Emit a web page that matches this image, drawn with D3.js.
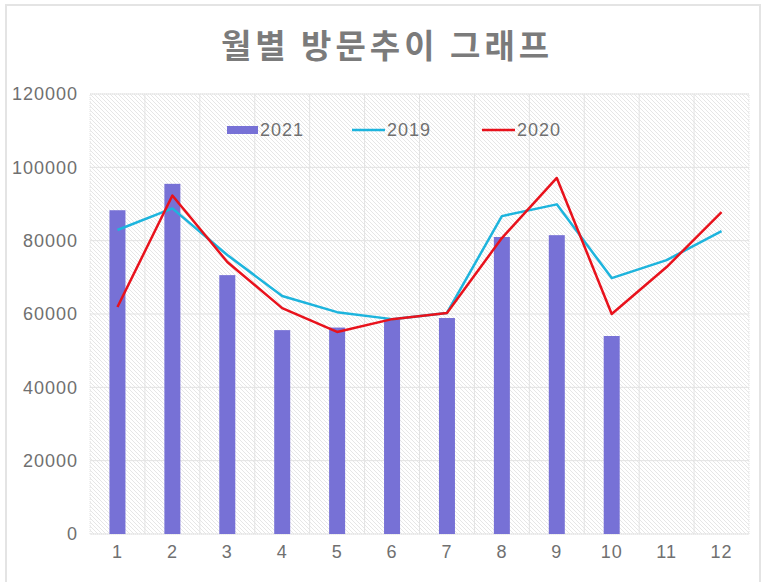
<!DOCTYPE html>
<html>
<head>
<meta charset="utf-8">
<script src="https://cdn.jsdelivr.net/npm/d3@7"></script>
<style>
  html, body { margin: 0; padding: 0; background: #fff; }
  svg { display: block; }
  text { font-family: "Noto Sans CJK KR", "Noto Sans", sans-serif; }
</style>
</head>
<body>
<svg id="chart" width="765" height="582"></svg>
<script>
// Monthly visitor counts
const months = ["1","2","3","4","5","6","7","8","9","10","11","12"];
const visits2021 = [88300, 95500, 70600, 55600, 56300, 58500, 58900, 81000, 81500, 54000, null, null];
const visits2019 = [82900, 88800, 76100, 64900, 60500, 58600, 60300, 86700, 89900, 69800, 74700, 82600];
const visits2020 = [61900, 92300, 74200, 61600, 55100, 58600, 60300, 80700, 97100, 60000, 72800, 87800];
const yTicks = [0, 20000, 40000, 60000, 80000, 100000, 120000];

const colors = { bar: "#7771d6", l2019: "#1db4dd", l2020: "#e8121c" };
const labelFont = "'Liberation Sans', Arial, sans-serif";

const svg = d3.select("#chart");
const plot = { left: 90, right: 749, top: 94, bottom: 534 };

// outer chart frame
svg.append("rect")
  .attr("x", 6).attr("y", 5).attr("width", 754).attr("height", 600)
  .attr("fill", "#fff").attr("stroke", "#e4e4e4").attr("stroke-width", 2);

// diagonal hatch used as plot background
const defs = svg.append("defs");
const pat = defs.append("pattern")
  .attr("id", "hatch").attr("patternUnits", "userSpaceOnUse")
  .attr("width", 4).attr("height", 4);
pat.append("rect").attr("width", 4).attr("height", 4).attr("fill", "#fff");
pat.append("path").attr("d", "M0,0 L4,4 M-1,3 L1,5 M3,-1 L5,1")
  .attr("stroke", "#e6e6e6").attr("stroke-width", 1);

const x = d3.scaleBand().domain(months).range([plot.left, plot.right]);
const y = d3.scaleLinear().domain([0, 120000]).range([plot.bottom, plot.top]);

svg.append("rect")
  .attr("x", plot.left).attr("y", plot.top)
  .attr("width", plot.right - plot.left).attr("height", plot.bottom - plot.top)
  .attr("fill", "url(#hatch)")
  .attr("stroke", "#e2e2e2").attr("stroke-dasharray", "1,1");

// gridlines
svg.append("g").selectAll("line").data(yTicks).join("line")
  .attr("x1", plot.left).attr("x2", plot.right)
  .attr("y1", d => y(d)).attr("y2", d => y(d))
  .attr("stroke", "#e3e3e3").attr("stroke-width", 1);
svg.append("g").selectAll("line").data(months.slice(1)).join("line")
  .attr("x1", d => x(d)).attr("x2", d => x(d))
  .attr("y1", plot.top).attr("y2", plot.bottom)
  .attr("stroke", "#e3e3e3").attr("stroke-width", 1);

// axes
const yAxis = svg.append("g")
  .attr("transform", `translate(${plot.left},0)`)
  .call(d3.axisLeft(y).tickValues(yTicks).tickFormat(d3.format("d")).tickSize(0).tickPadding(12));
const xAxis = svg.append("g")
  .attr("transform", `translate(0,${plot.bottom})`)
  .call(d3.axisBottom(x).tickSize(0).tickPadding(11));
[yAxis, xAxis].forEach(a => {
  a.select(".domain").remove();
  a.selectAll("text").attr("fill", "#707070").style("font-size", "18px")
    .style("letter-spacing", "1px").style("font-family", labelFont);
});

// 2021 bars
const barW = 16;
svg.append("g").selectAll("rect")
  .data(months.map((m, i) => ({ m, v: visits2021[i] })).filter(d => d.v != null))
  .join("rect")
  .attr("x", d => x(d.m) + x.bandwidth() / 2 - barW / 2)
  .attr("y", d => y(d.v))
  .attr("width", barW)
  .attr("height", d => y(0) - y(d.v))
  .attr("fill", colors.bar);

// 2019 / 2020 lines
const line = d3.line()
  .x((d, i) => x(months[i]) + x.bandwidth() / 2)
  .y(d => y(d));
svg.append("path").datum(visits2019)
  .attr("d", line).attr("fill", "none")
  .attr("stroke", colors.l2019).attr("stroke-width", 2.5).attr("stroke-linejoin", "round");
svg.append("path").datum(visits2020)
  .attr("d", line).attr("fill", "none")
  .attr("stroke", colors.l2020).attr("stroke-width", 2.5).attr("stroke-linejoin", "round");

// legend
const legend = svg.append("g").attr("transform", "translate(0,130)");
const items = [
  { label: "2021", type: "bar", color: colors.bar, x: 227 },
  { label: "2019", type: "line", color: colors.l2019, x: 352 },
  { label: "2020", type: "line", color: colors.l2020, x: 482 }
];
items.forEach(it => {
  if (it.type === "bar") {
    legend.append("rect").attr("x", it.x).attr("y", -4).attr("width", 31).attr("height", 8).attr("fill", it.color);
  } else {
    legend.append("line").attr("x1", it.x).attr("x2", it.x + 33).attr("y1", 0).attr("y2", 0)
      .attr("stroke", it.color).attr("stroke-width", 2.5);
  }
  legend.append("text")
    .attr("x", it.x + (it.type === "bar" ? 33 : 35)).attr("y", 0).attr("dy", "0.35em")
    .attr("fill", "#707070").style("font-size", "18px").style("letter-spacing", "1px")
    .style("font-family", labelFont)
    .text(it.label);
});

// title
svg.append("text")
  .attr("x", 387).attr("y", 46).attr("dy", "0.35em")
  .attr("text-anchor", "middle")
  .attr("fill", "#7b7b7b").style("font-size", "33px").style("font-weight", "bold")
  .style("letter-spacing", "4px")
  .text("월별 방문추이 그래프");
</script>
</body>
</html>
